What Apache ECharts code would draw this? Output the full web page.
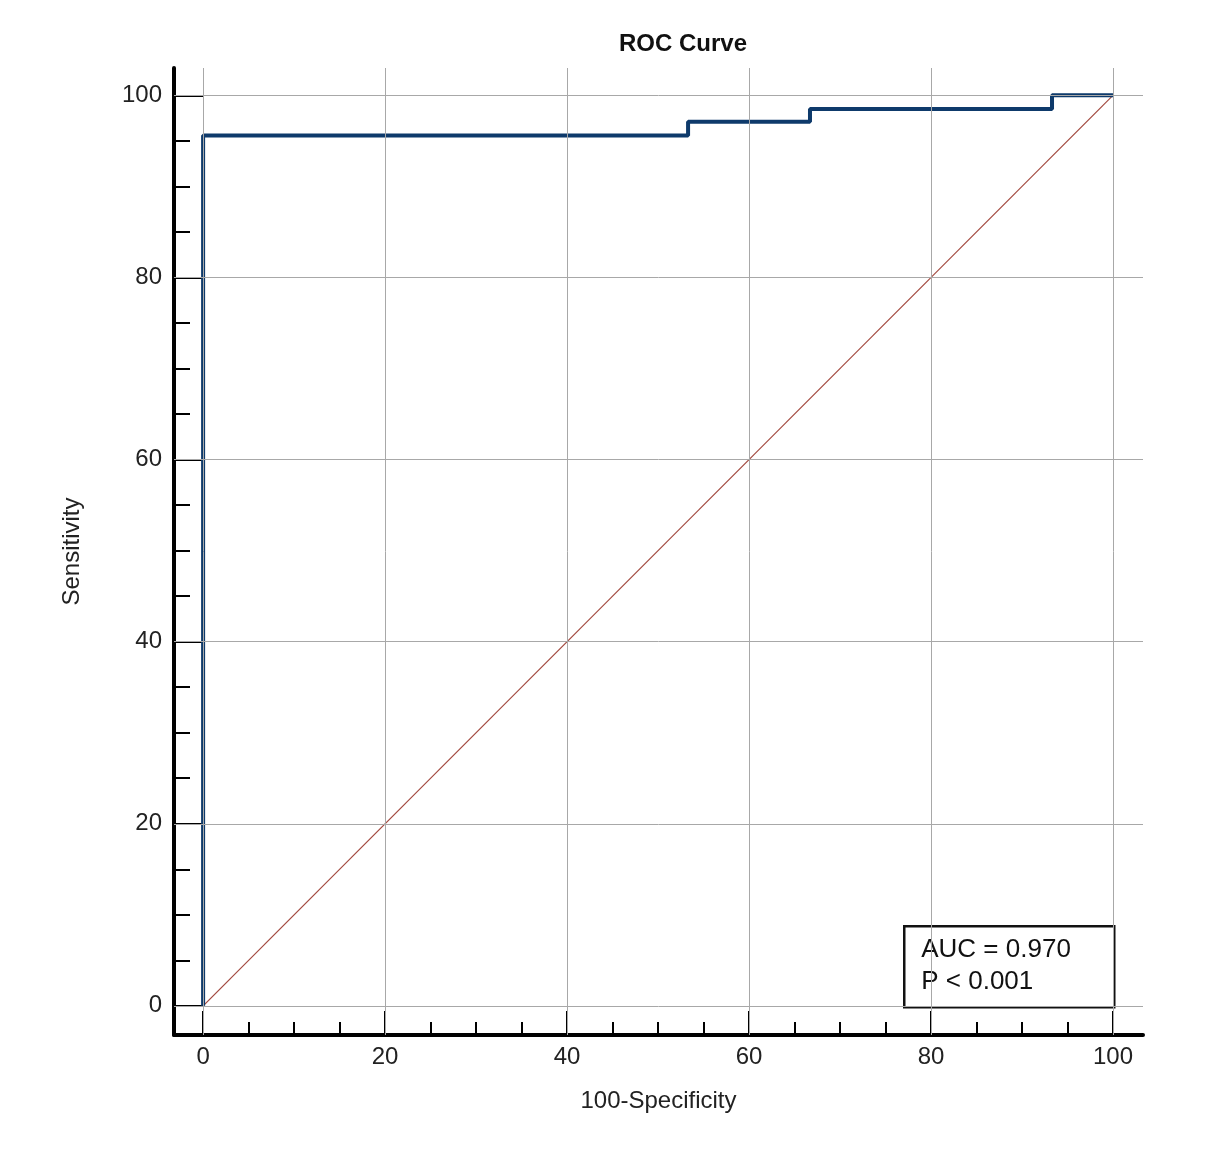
<!DOCTYPE html>
<html><head><meta charset="utf-8">
<script src="https://cdn.jsdelivr.net/npm/echarts@6/dist/echarts.min.js"></script>
<style>html,body{margin:0;background:#fff}#c{width:1218px;height:1173px}</style>
</head><body><div id="c"></div>
<script>
const rocX = [0, 0, 53.3, 53.3, 66.7, 66.7, 93.3, 93.3, 100];
const rocY = [0, 95.6, 95.6, 97.1, 97.1, 98.5, 98.5, 100, 100];
const diagX = [0, 100];
const diagY = [0, 100];
const majorTicks = [0, 20, 40, 60, 80, 100];
const minorTicks = [];
for (let v = 0; v <= 100; v += 5) minorTicks.push(v);

const font = 'Liberation Sans, Arial, sans-serif';
const chart = echarts.init(document.getElementById('c'));
function xAx(show, ticks, len, labels) {
  return { type: 'value', min: -3.2, max: 103.3, position: 'bottom',
    axisLine: { show: show, onZero: false, lineStyle: { color: '#000', width: 4 } },
    axisTick: { show: true, inside: true, length: len, customValues: ticks, lineStyle: { color: '#000', width: 2 } },
    axisLabel: { show: labels, customValues: majorTicks, fontSize: 24, color: '#222', fontFamily: font, margin: 10 },
    splitLine: { show: false },
    name: labels ? '100-Specificity' : '', nameLocation: 'middle', nameGap: 54,
    nameTextStyle: { fontSize: 24, color: '#222', fontFamily: font } };
}
function yAx(show, ticks, len, labels) {
  return { type: 'value', min: -3.2, max: 103.0, position: 'left',
    axisLine: { show: show, onZero: false, lineStyle: { color: '#000', width: 4 } },
    axisTick: { show: true, inside: true, length: len, customValues: ticks, lineStyle: { color: '#000', width: 2 } },
    axisLabel: { show: labels, customValues: majorTicks, fontSize: 24, color: '#222', fontFamily: font, margin: 12 },
    splitLine: { show: false },
    name: labels ? 'Sensitivity' : '', nameLocation: 'middle', nameGap: 90,
    nameTextStyle: { fontSize: 24, color: '#222', fontFamily: font } };
}
const gridLines = majorTicks.map(v => ({ xAxis: v })).concat(majorTicks.map(v => ({ yAxis: v })));
chart.setOption({
  animation: false,
  title: { text: 'ROC Curve', left: 678, top: 27, textAlign: 'center',
    textStyle: { fontSize: 24, fontWeight: 'bold', color: '#111', fontFamily: font } },
  grid: { left: 174, right: 75, top: 68, bottom: 138 },
  xAxis: [xAx(true, minorTicks, 13, true), xAx(false, majorTicks, 24, false)],
  yAxis: [yAx(true, minorTicks, 16, true), yAx(false, majorTicks, 29, false)],
  series: [
    { type: 'line', data: [], markLine: { silent: true, symbol: 'none', label: { show: false },
        lineStyle: { color: '#a8a8a8', width: 1, type: 'solid' }, data: gridLines } },
    { type: 'line', data: diagX.map((x, i) => [x, diagY[i]]), symbol: 'none',
      lineStyle: { color: '#a2483e', width: 1.2 } },
    { type: 'line', data: rocX.map((x, i) => [x, rocY[i]]), symbol: 'none',
      lineStyle: { color: '#0e3a6b', width: 4 } }
  ],
  graphic: [{ type: 'group', left: 903, top: 925, z: 100, children: [
    { type: 'rect', shape: { x: 0, y: 0, width: 210, height: 81 },
      style: { fill: '#fff', stroke: '#111', lineWidth: 2.5 } },
    { type: 'text', x: 17, y: 8, style: { text: 'AUC = 0.970\nP < 0.001', fontSize: 26, lineHeight: 32,
      fill: '#111', fontFamily: font } }
  ] }]
});
</script></body></html>
